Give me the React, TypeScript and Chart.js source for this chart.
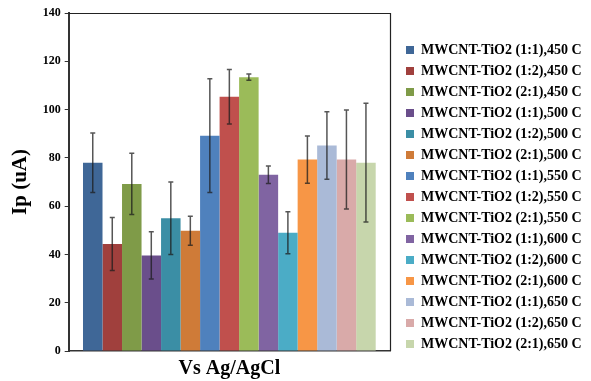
import React, { useEffect, useRef } from "react";
import { Chart, registerables } from "chart.js";

Chart.register(...registerables);

const categories = ["Vs Ag/AgCl"];
const seriesNames = [
  "MWCNT-TiO2 (1:1),450 C",
  "MWCNT-TiO2 (1:2),450 C",
  "MWCNT-TiO2 (2:1),450 C",
  "MWCNT-TiO2 (1:1),500 C",
  "MWCNT-TiO2 (1:2),500 C",
  "MWCNT-TiO2 (2:1),500 C",
  "MWCNT-TiO2 (1:1),550 C",
  "MWCNT-TiO2 (1:2),550 C",
  "MWCNT-TiO2 (2:1),550 C",
  "MWCNT-TiO2 (1:1),600 C",
  "MWCNT-TiO2 (1:2),600 C",
  "MWCNT-TiO2 (2:1),600 C",
  "MWCNT-TiO2 (1:1),650 C",
  "MWCNT-TiO2 (1:2),650 C",
  "MWCNT-TiO2 (2:1),650 C",
];
const seriesValues = [78, 44.3, 69.2, 39.6, 55, 49.8, 89.2, 105.3, 113.4, 73, 49, 79.3, 85.1, 79.3, 78];
const seriesErrors = [12.3, 11, 12.7, 9.8, 15, 6, 23.6, 11.3, 1.3, 3.6, 8.7, 9.8, 14, 20.5, 24.6];
const seriesColors = [
  "#3F6797", "#A0403D", "#7F9B48", "#6A4E8B", "#3B8EA5", "#CF7B38",
  "#4F81BD", "#C0504D", "#9BBB59", "#8064A2", "#4BACC6", "#F79646",
  "#AABAD7", "#D9AAA9", "#C7D6AC",
];
const yTicks = { min: 0, max: 140, step: 20 };

const FONT = "'Liberation Serif', 'Times New Roman', serif";

const errorBarPlugin = {
  id: "errorBars",
  afterDatasetsDraw(chart: any) {
    const ctx = chart.ctx;
    const y = chart.scales.y;
    ctx.save();
    ctx.strokeStyle = "rgba(30,30,30,0.75)";
    ctx.lineWidth = 1.5;
    seriesValues.forEach((v, i) => {
      const meta = chart.getDatasetMeta(i);
      const el = meta.data[0];
      if (!el) return;
      const x = el.x;
      const yTop = y.getPixelForValue(v + seriesErrors[i]);
      const yBot = y.getPixelForValue(v - seriesErrors[i]);
      ctx.beginPath();
      ctx.moveTo(x, yTop);
      ctx.lineTo(x, yBot);
      ctx.moveTo(x - 2.5, yTop);
      ctx.lineTo(x + 2.5, yTop);
      ctx.moveTo(x - 2.5, yBot);
      ctx.lineTo(x + 2.5, yBot);
      ctx.stroke();
    });
    ctx.restore();
  },
};

const framePlugin = {
  id: "frame",
  afterDraw(chart: any) {
    const { ctx, chartArea } = chart;
    ctx.save();
    ctx.strokeStyle = "#222";
    ctx.lineWidth = 1.2;
    ctx.beginPath();
    ctx.moveTo(chartArea.left, chartArea.top + 0.5);
    ctx.lineTo(chartArea.right + 0.5, chartArea.top + 0.5);
    ctx.lineTo(chartArea.right + 0.5, chartArea.bottom);
    ctx.stroke();
    ctx.restore();
  },
};

export default function App() {
  const ref = useRef<HTMLCanvasElement>(null);
  useEffect(() => {
    if (!ref.current) return;
    const chart = new Chart(ref.current, {
      type: "bar",
      data: {
        labels: categories,
        datasets: seriesNames.map((name, i) => ({
          label: name,
          data: [seriesValues[i]],
          backgroundColor: seriesColors[i],
          borderWidth: 0,
          barPercentage: 1,
          categoryPercentage: 0.911,
        })),
      },
      options: {
        responsive: false,
        animation: false,
        layout: { padding: { top: 13, left: 7.5, right: 0, bottom: 0 } },
        plugins: {
          legend: {
            position: "right",
            maxWidth: 192,
            labels: {
              boxWidth: 8,
              boxHeight: 8,
              padding: 7,
              color: "#000",
              font: { family: FONT, size: 14, weight: "bold" },
            },
          },
          tooltip: { enabled: false },
        },
        scales: {
          x: {
            grid: { display: false, drawTicks: false },
            border: { display: true, color: "#333", width: 1.5 },
            ticks: {
              padding: 6,
              color: "#000",
              font: { family: FONT, size: 20, weight: "bold" },
            },
            afterFit(scale: any) {
              scale.height = 30;
            },
          },
          y: {
            min: yTicks.min,
            max: yTicks.max,
            ticks: {
              stepSize: yTicks.step,
              padding: 4,
              color: "#000",
              font: { family: FONT, size: 12, weight: "bold" },
            },
            grid: { display: true, drawOnChartArea: false, drawTicks: true, tickLength: 4, color: "#333" },
            border: { display: true, color: "#333", width: 2 },
            title: {
              display: true,
              text: "Ip (uA)",
              color: "#000",
              padding: { top: 0, bottom: 6 },
              font: { family: FONT, size: 21, weight: "bold" },
            },
          },
          y2: {
            position: "right",
            display: true,
            grid: { display: false },
            border: { display: false },
            ticks: { display: false },
            afterFit(scale: any) {
              scale.width = 9;
            },
          },
        },
      },
      plugins: [errorBarPlugin, framePlugin],
    } as any);
    return () => chart.destroy();
  }, []);
  return (
    <div style={{ position: "absolute", left: 0, top: 0, width: 591, height: 381, background: "#fff" }}>
      <canvas ref={ref} width={591} height={381} />
    </div>
  );
}
